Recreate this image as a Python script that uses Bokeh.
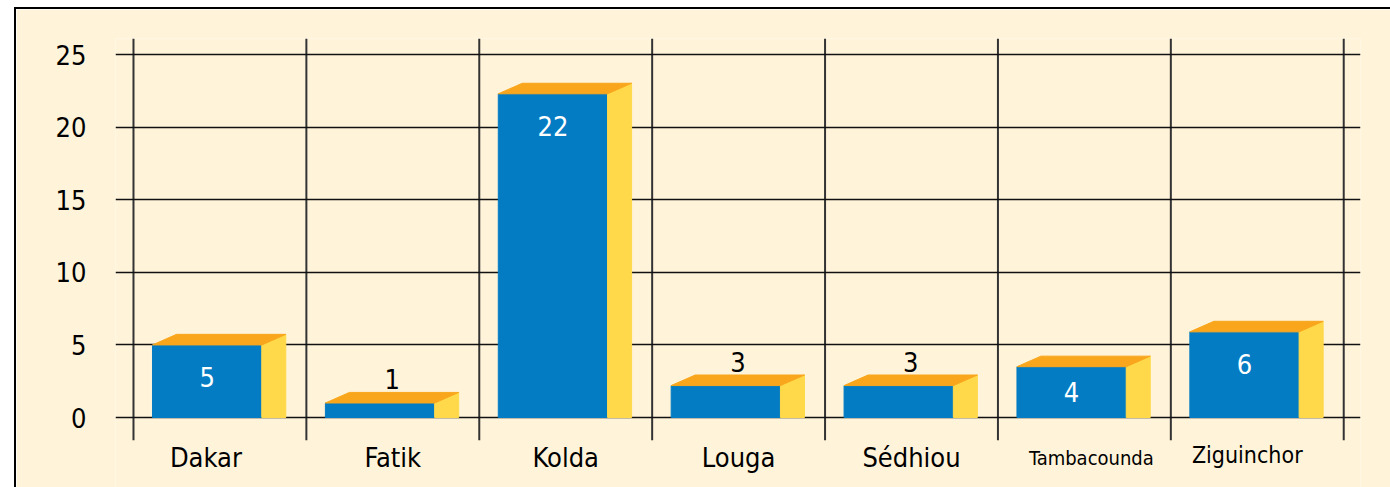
from bokeh.plotting import figure
from bokeh.models import FixedTicker, Range1d
from bokeh.embed import file_html
from bokeh.resources import INLINE
from bokeh.core.properties import value

# ---- data ----
categories = ["Dakar", "Fatik", "Kolda", "Louga", "Sédhiou", "Tambacounda", "Ziguinchor"]
values = [5, 1, 22.3, 2.2, 2.2, 3.5, 5.9]          # bar heights as drawn
labels = ["5", "1", "22", "3", "3", "4", "6"]       # value labels as printed
y_ticks = [0, 5, 10, 15, 20, 25]

# ---- style ----
FONT = "DejaVu Sans Condensed"
FS = "27px"
BG = "#FFF4DA"
BLUE = "#047CC3"
ORANGE = "#F9A61C"
YELLOW = "#FFD94A"
cat_font_size = {"Tambacounda": "20px", "Ziguinchor": "23px"}
cat_x_shift = {"Dakar": -14, "Tambacounda": 7, "Ziguinchor": -10}
cat_y_shift = {"Tambacounda": 1, "Ziguinchor": -2}

n = len(categories)
f_left, f_right = 0.110, 0.742       # front face within each category cell
dx, dy = 0.139, 0.728                 # 3-D depth offset (data units)
Y_LO, Y_HI = -4.96, 26.11
GRID_LO = -1.56

p = figure(width=1376, height=480, output_backend="svg", toolbar_location=None,
           x_range=Range1d(-0.104, 7.097), y_range=Range1d(Y_LO, Y_HI),
           min_border_left=99, min_border_right=32, min_border_top=29, min_border_bottom=0,
           background_fill_color=BG, border_fill_color=BG, outline_line_color=None)
p.styles = {"margin-left": "14px", "margin-top": "7px",
            "border-top": "2px solid black", "border-left": "2px solid black"}

# grid
p.xgrid.visible = False
p.xaxis.visible = False
p.ygrid.ticker = FixedTicker(ticks=y_ticks)
p.ygrid.grid_line_color = "#111111"
p.ygrid.grid_line_width = 1.5

bounds = list(range(n + 1))
p.segment(x0=bounds, x1=bounds, y0=GRID_LO, y1=Y_HI, line_color="#333333",
          line_width=2, level="underlay")

# y axis
p.yaxis.ticker = FixedTicker(ticks=y_ticks)
p.yaxis.axis_line_color = None
p.yaxis.major_tick_line_color = None
p.yaxis.minor_tick_line_color = None
p.yaxis.major_label_standoff = 23
p.yaxis.major_label_text_font = FONT
p.yaxis.major_label_text_font_size = FS
p.yaxis.major_label_text_color = "black"

# category labels
centers = [i + 0.5 for i in range(n)]
for c, name in zip(centers, categories):
    p.text(x=[c], y=[GRID_LO], text=[name], text_align="center", text_baseline="alphabetic",
           x_offset=cat_x_shift.get(name, 0), y_offset=17 + cat_y_shift.get(name, 0),
           text_font=value(FONT), text_font_size=cat_font_size.get(name, FS),
           text_color="black")

# bars
lefts = [i + f_left for i in range(n)]
rights = [i + f_right for i in range(n)]
p.quad(left=lefts, right=rights, bottom=0, top=values,
       fill_color=BLUE, line_color=BLUE, line_width=1)
side_xs = [[r, r + dx, r + dx, r] for r in rights]
side_ys = [[0, 0, v + dy, v] for v in values]
p.patches(side_xs, side_ys, fill_color=YELLOW, line_color=YELLOW, line_width=1)
top_xs = [[l, l + dx, r + dx, r] for l, r in zip(lefts, rights)]
top_ys = [[v, v + dy, v + dy, v] for v in values]
p.patches(top_xs, top_ys, fill_color=ORANGE, line_color=ORANGE, line_width=1)

# value labels
fc = [(l + r) / 2 for l, r in zip(lefts, rights)]
ins = [i for i, v in enumerate(values) if v >= 3]
outs = [i for i, v in enumerate(values) if v < 3]
p.text(x=[fc[i] for i in ins], y=[max(values[i] - 2.2, values[i] / 2) for i in ins],
       text=[labels[i] for i in ins], text_color="white", text_align="center",
       text_baseline="middle", text_font=value(FONT), text_font_size=FS)
p.text(x=[fc[i] + 0.07 for i in outs], y=[values[i] for i in outs],
       text=[labels[i] for i in outs], text_color="black", text_align="center",
       text_baseline="middle", y_offset=-24, text_font=value(FONT), text_font_size=FS)

open("out.html", "w").write(file_html(p, INLINE))
